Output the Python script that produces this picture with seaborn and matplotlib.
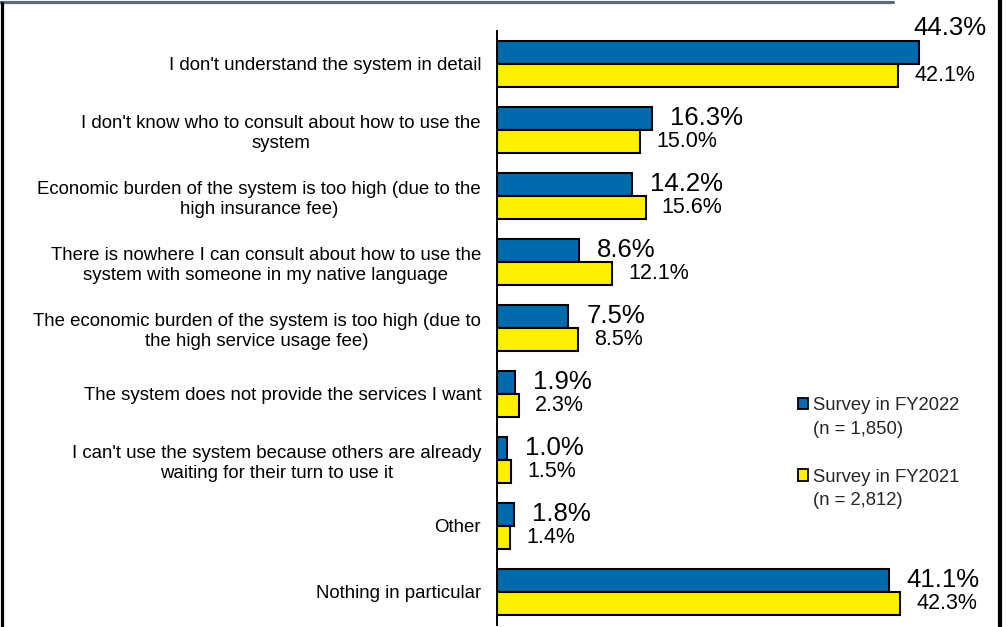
import matplotlib
matplotlib.use("Agg")
import matplotlib.pyplot as plt
from matplotlib.patches import Patch
from matplotlib.lines import Line2D
import seaborn as sns
import pandas as pd

categories = [
    "I don't understand the system in detail",
    "I don't know who to consult about how to use the\nsystem",
    "Economic burden of the system is too high (due to the\nhigh insurance fee)",
    "There is nowhere I can consult about how to use the\nsystem with someone in my native language",
    "The economic burden of the system is too high (due to\nthe high service usage fee)",
    "The system does not provide the services I want",
    "I can't use the system because others are already\nwaiting for their turn to use it",
    "Other",
    "Nothing in particular",
]
fy2022 = [44.3, 16.3, 14.2, 8.6, 7.5, 1.9, 1.0, 1.8, 41.1]
fy2021 = [42.1, 15.0, 15.6, 12.1, 8.5, 2.3, 1.5, 1.4, 42.3]
series_names = ["Survey in FY2022", "Survey in FY2021"]
sample_sizes = ["(n = 1,850)", "(n = 2,812)"]

BLUE = "#006AAC"
YELLOW = "#FFF000"

df = pd.DataFrame({
    "category": categories * 2,
    "value": fy2022 + fy2021,
    "survey": [series_names[0]] * len(categories) + [series_names[1]] * len(categories),
})

sns.set_theme(style="white")
plt.rcParams["font.family"] = ["Liberation Sans", "DejaVu Sans"]

W, H = 1007, 627
fig = plt.figure(figsize=(W / 100, H / 100), dpi=100)
ax = fig.add_axes([497 / W, 2 / H, 500 / W, 594 / H])

sns.barplot(
    data=df, y="category", x="value", hue="survey", orient="h",
    palette=[BLUE, YELLOW], saturation=1, width=0.71, edgecolor="black",
    linewidth=1.5, legend=False, ax=ax, errorbar=None,
)

ax.set_xlim(0, 500 / 9.53)
ax.set_ylim(len(categories) - 0.5, -0.5)
ax.set_xlabel("")
ax.set_ylabel("")
ax.set_xticks([])
for side in ["top", "right", "bottom"]:
    ax.spines[side].set_visible(False)
ax.spines["left"].set_color("black")
ax.spines["left"].set_linewidth(1.4)
ax.tick_params(axis="y", length=0, pad=11.5, labelsize=13.4)
for lbl in ax.get_yticklabels():
    lbl.set_multialignment("center")
    lbl.set_color("black")

# value labels: larger for FY2022, smaller for FY2021
blue_bars, yellow_bars = ax.containers[0], ax.containers[1]
for bar, v in zip(blue_bars, fy2022):
    yc = bar.get_y() + bar.get_height() / 2
    if v >= 44:
        ax.annotate(f"{v:.1f}%", (v, bar.get_y()), xytext=(-6, 1),
                    textcoords="offset pixels", ha="left", va="bottom",
                    fontsize=18.5, color="black")
    else:
        ax.annotate(f"{v:.1f}%", (v, yc), xytext=(18, 0),
                    textcoords="offset pixels", ha="left", va="center",
                    fontsize=18.5, color="black")
for bar, v in zip(yellow_bars, fy2021):
    yc = bar.get_y() + bar.get_height() / 2
    ax.annotate(f"{v:.1f}%", (v, yc), xytext=(16, 0),
                textcoords="offset pixels", ha="left", va="center",
                fontsize=15.5, color="black")

# legend with the sample size on a second line
blank = Patch(facecolor="none", edgecolor="none")
handles = [
    Patch(facecolor=BLUE, edgecolor="black", linewidth=1.3), blank, blank,
    Patch(facecolor=YELLOW, edgecolor="black", linewidth=1.3), blank,
]
labels = [series_names[0], sample_sizes[0], "", series_names[1], sample_sizes[1]]
fig.legend(
    handles, labels, loc="upper left",
    bbox_to_anchor=(798 / W, 1 - 397 / H), bbox_transform=fig.transFigure,
    frameon=False, fontsize=13.3, handlelength=0.55, handleheight=0.55,
    handletextpad=0.25, labelspacing=0.37, borderpad=0, borderaxespad=0,
)

# page frame lines
fig.add_artist(Line2D([0, 893 / W], [1 - 1.5 / H, 1 - 1.5 / H],
                      transform=fig.transFigure, color="#5E6A77", linewidth=2.3))
fig.add_artist(Line2D([1.5 / W, 1.5 / W], [0, 1 - 3 / H],
                      transform=fig.transFigure, color="black", linewidth=2.3))
fig.add_artist(Line2D([999.5 / W, 999.5 / W], [0, 1],
                      transform=fig.transFigure, color="black", linewidth=3))

fig.savefig("out.png", dpi=100)
